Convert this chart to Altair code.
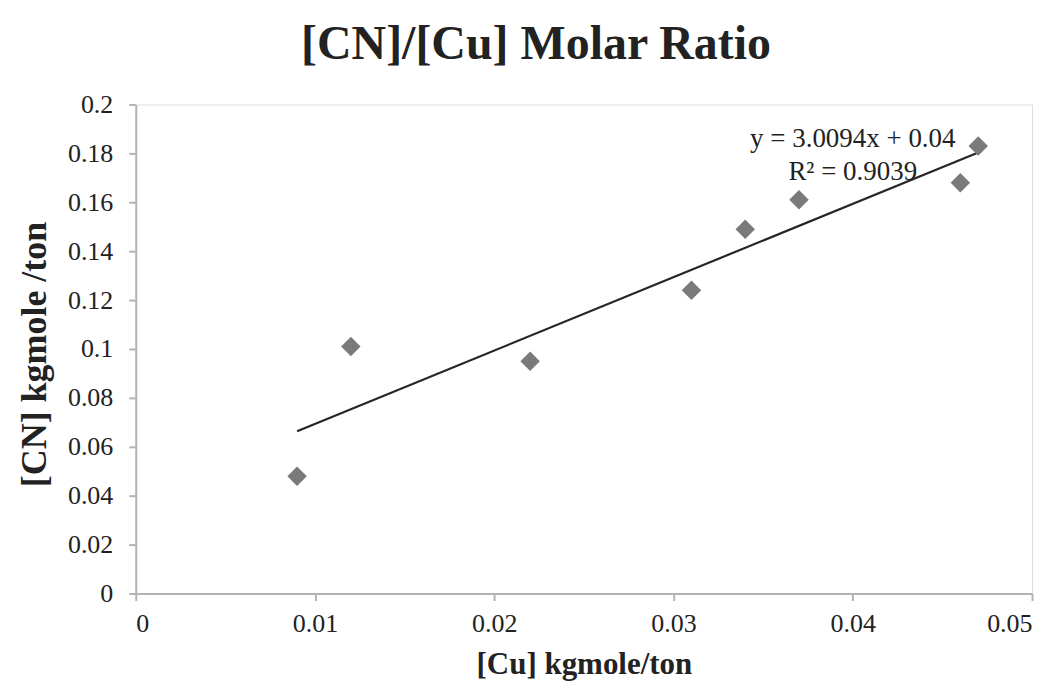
import altair as alt
import pandas as pd

cu = [0.009, 0.012, 0.022, 0.031, 0.034, 0.037, 0.046, 0.047]
cn = [0.048, 0.101, 0.095, 0.124, 0.149, 0.161, 0.168, 0.183]

eq_text = ["y = 3.0094x + 0.04", "R\u00b2 = 0.9039"]
eq_x = [0.0400, 0.0400]
eq_y = [0.1825, 0.1690]

df = pd.DataFrame({"cu": cu, "cn": cn})
ann = pd.DataFrame({"t": eq_text, "x": eq_x, "y": eq_y})

FONT = "Liberation Serif"

xenc = alt.X("cu:Q", scale=alt.Scale(domain=[0, 0.05], nice=False),
             axis=alt.Axis(title="[Cu] kgmole/ton", values=[0, 0.01, 0.02, 0.03, 0.04, 0.05],
                           format="~g", grid=False, domainColor="#b3b3b3", domainWidth=2,
                           tickColor="#b3b3b3", tickWidth=2, tickSize=7, labelPadding=10,
                           labelFont=FONT, labelFontSize=26, labelColor="#222222",
                           titleFont=FONT, titleFontSize=31, titleFontWeight="bold",
                           titleColor="#222222", titleY=80, titleBaseline="alphabetic"))
yenc = alt.Y("cn:Q", scale=alt.Scale(domain=[0, 0.2], nice=False),
             axis=alt.Axis(title="[CN] kgmole /ton", values=[0, 0.02, 0.04, 0.06, 0.08, 0.1, 0.12, 0.14, 0.16, 0.18, 0.2],
                           format="~g", grid=False, domainColor="#b3b3b3", domainWidth=2,
                           tickColor="#b3b3b3", tickWidth=2, tickSize=7, labelPadding=16,
                           labelFont=FONT, labelFontSize=26, labelColor="#222222",
                           titleFont=FONT, titleFontSize=36, titleFontWeight="bold",
                           titleColor="#222222", titleX=-101, titleY=250, titleAngle=-90,
                           titleBaseline="middle", titleAlign="center"))

points = alt.Chart(df).mark_point(shape="diamond", filled=True, size=380,
                                  color="#7a7a7a", opacity=1).encode(x=xenc, y=yenc)

trend = alt.Chart(df).transform_regression("cu", "cn", method="linear").mark_line(
    color="#262626", strokeWidth=2.2).encode(x="cu:Q", y="cn:Q")

text = alt.Chart(ann).mark_text(font=FONT, fontSize=27, color="#222222",
                                align="center", baseline="alphabetic").encode(
    x="x:Q", y="y:Q", text="t:N")

chart = alt.layer(trend, points, text).properties(
    width=898, height=490,
    autosize=alt.AutoSizeParams(type="none"),
    padding={"left": 128, "top": 96, "right": 20, "bottom": 88},
    title=alt.TitleParams("[CN]/[Cu] Molar Ratio", font=FONT, fontSize=48,
                          fontWeight="bold", color="#222222", dx=-48, offset=23,
                          anchor="middle"),
).configure_view(stroke=None).configure(background="white")

chart.save("out.html", embed_options={"renderer": "svg", "actions": False})
